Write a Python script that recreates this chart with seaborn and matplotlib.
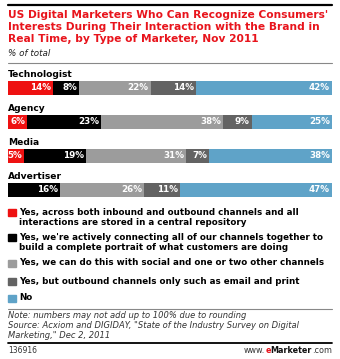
import matplotlib
matplotlib.use("Agg")
import matplotlib.pyplot as plt
import seaborn as sns
import pandas as pd
import numpy as np
from matplotlib.patches import Rectangle
from matplotlib.lines import Line2D

# ---------------- data ----------------
marketers = ["Technologist", "Agency", "Media", "Advertiser"]
answers = [
    "Yes, across both inbound and outbound channels and all\ninteractions are stored in a central repository",
    "Yes, we're actively connecting all of our channels together to\nbuild a complete portrait of what customers are doing",
    "Yes, we can do this with social and one or two other channels",
    "Yes, but outbound channels only such as email and print",
    "No",
]
inbound_outbound = [14, 6, 5, 0]
connecting = [8, 23, 19, 16]
social = [22, 38, 31, 26]
outbound_only = [14, 9, 7, 11]
no_answer = [42, 25, 38, 47]
colors = ["#ee1111", "#000000", "#9c9c9c", "#636363", "#5fa3c8"]

title = ("US Digital Marketers Who Can Recognize Consumers'\n"
         "Interests During Their Interaction with the Brand in\n"
         "Real Time, by Type of Marketer, Nov 2011")
subtitle = "% of total"
note = ("Note: numbers may not add up to 100% due to rounding\n"
        "Source: Acxiom and DIGIDAY, \"State of the Industry Survey on Digital\n"
        "Marketing,\" Dec 2, 2011")
chart_id = "136916"

# ---------------- figure ----------------
sns.set_theme(style="white")
plt.rcParams["font.family"] = ["DejaVu Sans"]
W, H = 340, 359
fig = plt.figure(figsize=(W / 100, H / 100), dpi=100)
fig.patch.set_facecolor("white")


def fy(y):
    return 1 - y / H


def fx(x):
    return x / W


# decorative lines
fig.add_artist(Line2D([fx(8), fx(332)], [fy(5), fy(5)], color="black", lw=1.6))
fig.add_artist(Line2D([fx(8), fx(332)], [fy(62.5), fy(62.5)], color="#888888", lw=0.8))
fig.add_artist(Line2D([fx(8), fx(332)], [fy(309), fy(309)], color="#888888", lw=0.8))
fig.add_artist(Line2D([fx(8), fx(332)], [fy(343), fy(343)], color="black", lw=1.3))

title_y = [15, 27, 39.5]
for line, y in zip(title.split("\n"), title_y):
    fig.text(fx(8), fy(y), line, color="#e8141c", fontsize=7.7, fontweight="bold",
             va="center", ha="left")
fig.text(fx(8), fy(53), subtitle, color="#222222", fontsize=6.3, style="italic",
         va="center", ha="left")

# ---------------- bars ----------------
ax = fig.add_axes([fx(8), fy(207), fx(332) - fx(8), (207 - 71) / H])
series = [inbound_outbound, connecting, social, outbound_only, no_answer]
vals = np.array(series, dtype=float).T  # rows: marketers
totals = vals.sum(axis=1, keepdims=True)
shares = vals / totals * 100
cum = np.cumsum(shares, axis=1)

for k in range(len(series) - 1, -1, -1):
    df = pd.DataFrame({"marketer": marketers, "end": cum[:, k]})
    sns.barplot(data=df, x="end", y="marketer", order=marketers, orient="h",
                color=colors[k], width=0.42, ax=ax, saturation=1, linewidth=0)

for i, m in enumerate(marketers):
    ax.text(0, i - 0.41, m, fontsize=6.6, fontweight="bold", color="black",
            va="center", ha="left")
    for k in range(len(series)):
        v = vals[i, k]
        if v <= 0:
            continue
        ax.text(cum[i, k] - 0.6, i, f"{int(v)}%", fontsize=6.3, fontweight="bold",
                color="white", va="center", ha="right")

ax.set_xlim(0, 100)
ax.set_ylim(3.5, -0.5)
ax.axis("off")

# ---------------- legend ----------------
legend_y = [212, 237, 263, 281, 298]
for k, (lab, y) in enumerate(zip(answers, legend_y)):
    fig.add_artist(Rectangle((fx(8), fy(y + 4)), fx(7.5), 7.5 / H, color=colors[k],
                             transform=fig.transFigure))
    lines = lab.split("\n")
    for j, ln in enumerate(lines):
        fig.text(fx(19), fy(y + 10.3 * j), ln, fontsize=6.35, fontweight="bold",
                 color="black", va="center", ha="left")

# ---------------- notes ----------------
note_y = [315, 325.5, 336]
for ln, y in zip(note.split("\n"), note_y):
    fig.text(fx(8), fy(y), ln, fontsize=6.05, style="italic", color="#333333",
             va="center", ha="left")
fig.text(fx(8), fy(350.5), chart_id, fontsize=5.5, color="#333333",
         va="center", ha="left")

# www.eMarketer.com right aligned
fig.canvas.draw()
renderer = fig.canvas.get_renderer()
parts = [("www.", "#333333", "normal"), ("e", "#e8141c", "bold"),
         ("Marketer", "#111111", "bold"), (".com", "#333333", "normal")]
x_right = 332
for txt, col, wt in reversed(parts):
    t = fig.text(fx(x_right), fy(350.5), txt, fontsize=5.8, color=col, fontweight=wt,
                 va="center", ha="right")
    bb = t.get_window_extent(renderer)
    x_right -= bb.width

fig.savefig("out.png", dpi=100, facecolor="white")
